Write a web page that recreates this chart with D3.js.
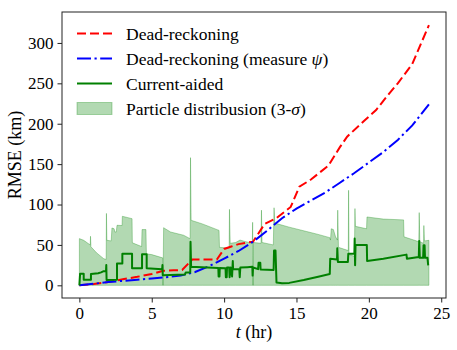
<!DOCTYPE html>
<html>
<head>
<meta charset="utf-8">
<script src="https://cdn.jsdelivr.net/npm/d3@7"></script>
<style>
  body { margin: 0; background: white; }
  svg text { font-family: "Liberation Serif", "DejaVu Serif", serif !important; fill: black; }
</style>
</head>
<body>
<svg id="chart" width="457" height="350" font-family="Liberation Serif"></svg>
<script>
"use strict";

// values, t in hours, RMSE in km
let deadReckoning = [
  [0, 0], [1, 1.5], [2, 4], [3, 7.5], [4, 10.5], [5, 14], [5.8, 18], [6.5, 18.5],
  [7.1, 19], [7.8, 32], [8.5, 32], [9.5, 32], [10, 45], [10.5, 48], [11, 51],
  [12, 54], [12.8, 76], [13.6, 83], [14.6, 97], [15.2, 122], [16, 131],
  [17.2, 148], [18, 171], [18.5, 184], [19.7, 204], [20.5, 217], [21.3, 235],
  [22, 250], [23, 274], [24.15, 322],
];

let deadReckoningPsi = [
  [0, 0], [1, 2], [2, 4], [3, 5.5], [4, 7], [5, 8.5], [6, 10], [7, 12], [8, 16.5],
  [9, 24], [10, 33], [11, 42.5], [12, 54], [13, 68], [14, 83], [15, 95],
  [16, 105], [17, 115], [18, 127], [19, 139], [20, 152], [21, 165], [22, 180],
  [23, 198], [24.15, 224],
];

let currentAided = [
  [0, 0], [0.05, 14.4], [0.3, 14.4], [0.3, 7], [0.8, 7], [0.8, 14], [1.3, 15],
  [1.5, 16], [1.68, 17.5], [1.84, 17.5], [1.86, 25], [1.88, 6.5], [2.6, 7],
  [2.6, 27], [2.97, 27], [2.97, 39], [3.64, 39], [3.64, 21], [4.33, 21],
  [4.33, 38.5], [4.65, 38.5], [4.65, 21], [5.72, 20], [5.74, 25], [5.76, 12.5],
  [7.3, 13.5], [7.35, 16], [7.66, 16], [7.68, 54], [7.72, 23], [9.6, 21.5],
  [9.62, 11], [9.68, 11], [9.7, 21.5], [10.1, 21], [10.12, 10], [10.18, 10],
  [10.2, 22], [10.35, 22], [10.38, 10], [10.45, 22], [10.55, 11], [10.6, 30],
  [10.62, 20], [11.05, 20], [11.08, 10], [11.12, 22], [11.6, 22.5], [11.95, 23],
  [11.97, 12], [12.0, 22], [12.35, 20], [12.38, 28], [12.5, 28], [12.52, 19.6],
  [13.42, 19], [13.45, 43], [13.55, 43], [13.62, 3.5], [14.0, 2.5], [14.5, 3],
  [15.5, 6.5], [16.5, 10.5], [17.3, 14], [17.33, 33], [17.8, 32], [17.82, 46],
  [17.86, 29], [18.55, 29], [18.58, 39], [19.0, 39], [19.02, 57.8], [19.05, 24.8],
  [19.08, 50], [19.86, 50], [19.88, 30], [21, 33], [22.6, 38], [22.63, 33],
  [23.45, 35], [23.48, 55], [23.52, 34], [23.75, 34], [23.78, 49.5],
  [23.85, 49.5], [23.88, 34], [24.05, 34], [24.1, 24.8],
];

// upper edge of the 3-sigma particle spread (lower edge is 0)
let particleSpread = [
  [0, 0], [0, 57.8], [0.3, 55.7], [0.75, 50], [0.77, 60.7], [0.8, 47.7],
  [1.2, 40], [1.68, 33], [1.85, 32], [1.87, 89], [1.9, 55.7], [2.2, 55],
  [2.25, 71], [2.4, 70], [2.45, 66], [2.55, 66], [2.6, 74.3], [2.95, 74],
  [2.97, 85.4], [3.3, 84], [3.64, 82.5], [3.66, 52.6], [4.3, 48], [4.33, 69],
  [4.6, 69], [4.63, 39], [5.0, 38], [5.75, 34], [5.78, 0], [5.82, 71.3],
  [6.3, 66], [7.2, 62], [7.65, 57.7], [7.68, 158], [7.72, 80.5], [8.5, 76],
  [9.65, 68], [9.68, 47], [10.35, 46], [10.37, 94], [10.42, 52], [10.8, 53],
  [11.1, 56], [11.5, 54], [11.95, 52], [11.97, 78], [12.0, 0], [12.03, 53],
  [12.55, 52], [12.58, 93], [12.62, 53], [13.4, 50], [13.45, 96], [13.5, 77],
  [14.5, 72], [15.7, 66.6], [16.5, 63], [17.3, 59], [17.35, 56], [17.4, 70],
  [17.55, 69], [17.7, 60], [17.83, 56], [17.85, 93], [17.9, 47], [18.58, 43],
  [18.6, 117.6], [18.63, 38], [19.0, 36], [19.04, 95], [19.07, 73],
  [19.84, 70], [19.87, 84.6], [21, 82], [22.4, 81], [22.43, 60], [23.45, 54],
  [23.48, 90], [23.52, 54], [23.78, 52], [23.8, 74], [23.84, 55],
  [24.15, 55.7], [24.15, 0],
];

let xTicks = [0, 5, 10, 15, 20, 25];
let yTicks = [0, 50, 100, 150, 200, 250, 300];

let legendItems = [
  { kind: 'line', color: 'red', dash: '9,4', label: ['Dead-reckoning'] },
  { kind: 'line', color: 'blue', dash: '14,3.5,2.2,3.5', label: ['Dead-reckoning (measure ', 'ψ', ')'] },
  { kind: 'line', color: 'green', dash: null, label: ['Current-aided'] },
  { kind: 'patch', color: 'green', dash: null, label: ['Particle distribusion (3-', 'σ', ')'] },
];

const SERIF = '"Liberation Serif", "DejaVu Serif", serif';

let box = { left: 62, right: 446, top: 12, bottom: 298 };

let x = d3.scaleLinear().domain([-1.2, 25.33]).range([box.left, box.right]);
let y = d3.scaleLinear().domain([-15.7, 338.3]).range([box.bottom, box.top]);

let svg = d3.select('#chart');

svg.append('defs').append('clipPath')
    .attr('id', 'plotclip')
  .append('rect')
    .attr('x', box.left)
    .attr('y', box.top)
    .attr('width', box.right - box.left)
    .attr('height', box.bottom - box.top);

let plot = svg.append('g').attr('clip-path', 'url(#plotclip)');

// band
let area = d3.area()
  .x(d => x(d[0]))
  .y0(y(0))
  .y1(d => y(d[1]));

plot.append('path')
  .datum(particleSpread)
  .attr('d', area)
  .attr('fill', 'green')
  .attr('fill-opacity', 0.3)
  .attr('stroke', 'green')
  .attr('stroke-opacity', 0.3)
  .attr('stroke-width', 1);

let line = d3.line()
  .x(d => x(d[0]))
  .y(d => y(d[1]));

plot.append('path')
  .datum(deadReckoning)
  .attr('d', line)
  .attr('fill', 'none')
  .attr('stroke', 'red')
  .attr('stroke-width', 2)
  .attr('stroke-dasharray', '9,4');

plot.append('path')
  .datum(deadReckoningPsi)
  .attr('d', line)
  .attr('fill', 'none')
  .attr('stroke', 'blue')
  .attr('stroke-width', 2)
  .attr('stroke-dasharray', '14,3.5,2.2,3.5');

plot.append('path')
  .datum(currentAided)
  .attr('d', line)
  .attr('fill', 'none')
  .attr('stroke', 'green')
  .attr('stroke-width', 2)
  .attr('stroke-linejoin', 'round');

// axes
let xAxis = svg.append('g')
  .attr('transform', `translate(0,${box.bottom})`)
  .call(d3.axisBottom(x).tickValues(xTicks).tickSize(4.5).tickPadding(4).tickFormat(d3.format('d')));

let yAxis = svg.append('g')
  .attr('transform', `translate(${box.left},0)`)
  .call(d3.axisLeft(y).tickValues(yTicks).tickSize(4.5).tickPadding(4).tickFormat(d3.format('d')));

[xAxis, yAxis].forEach(a => {
  a.attr('font-family', SERIF).attr('font-size', 17);
  a.select('.domain').remove();
  a.selectAll('.tick line').attr('stroke', '#222').attr('stroke-width', 1);
  a.selectAll('.tick text')
    .attr('fill', 'black')
    .attr('font-family', SERIF);
});

svg.append('rect')
  .attr('x', box.left)
  .attr('y', box.top)
  .attr('width', box.right - box.left)
  .attr('height', box.bottom - box.top)
  .attr('fill', 'none')
  .attr('stroke', '#222')
  .attr('stroke-width', 1);

// axis labels
let xLabel = svg.append('text')
  .attr('x', (box.left + box.right) / 2)
  .attr('y', 338)
  .attr('text-anchor', 'middle')
  .attr('font-family', SERIF)
  .attr('font-size', 18);
xLabel.append('tspan').style('font-style', 'italic').text('t');
xLabel.append('tspan').text(' (hr)');

svg.append('text')
  .attr('transform', `translate(21,${(box.top + box.bottom) / 2}) rotate(-90)`)
  .attr('text-anchor', 'middle')
  .attr('font-family', SERIF)
  .attr('font-size', 18)
  .text('RMSE (km)');

// legend
let legend = svg.append('g').attr('class', 'legend');
let legendRows = legend.selectAll('g')
  .data(legendItems)
  .enter()
  .append('g')
    .attr('transform', (d, i) => `translate(77,${33.5 + i * 25})`);

legendRows.filter(d => d.kind === 'line')
  .append('line')
    .attr('x1', 0)
    .attr('x2', 35)
    .attr('stroke', d => d.color)
    .attr('stroke-width', 2)
    .attr('stroke-dasharray', d => d.dash);

legendRows.filter(d => d.kind === 'patch')
  .append('rect')
    .attr('x', 0)
    .attr('y', -6)
    .attr('width', 35)
    .attr('height', 12)
    .attr('fill', d => d.color)
    .attr('fill-opacity', 0.3)
    .attr('stroke', d => d.color)
    .attr('stroke-opacity', 0.3);

let legendText = legendRows.append('text')
  .attr('x', 49)
  .attr('dy', '0.35em')
  .attr('font-family', SERIF)
  .attr('font-size', 17.5);

legendText.selectAll('tspan')
  .data(d => d.label)
  .enter()
  .append('tspan')
    .style('font-style', (s, i) => (i === 1 ? 'italic' : 'normal'))
    .text(s => s);
</script>
</body>
</html>
